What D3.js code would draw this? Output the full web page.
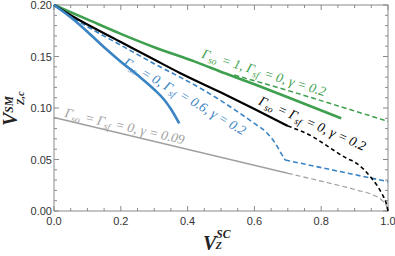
<!DOCTYPE html>
<html>
<head>
<meta charset="utf-8">
<script src="https://cdn.jsdelivr.net/npm/d3@7"></script>
<style>
  body { margin: 0; background: #fff; }
  svg { display: block; }
</style>
</head>
<body>
<div id="chart"></div>
<script>

// curves: [x, y]
var greenSolid = [[0,0.2],[0.1,0.186],[0.2,0.172],[0.3,0.159],[0.422,0.145],[0.512,0.1337],[0.6,0.123],[0.7,0.1105],[0.86,0.09]];
var greenDashed = [[0.54,0.132],[0.7,0.117],[0.886,0.0985],[1.0,0.087]];
var blackSolid = [[0,0.2],[0.05,0.19],[0.1,0.181],[0.2,0.164],[0.3,0.147],[0.377,0.134],[0.5,0.115],[0.6,0.099],[0.70,0.0825]];
var blackDashed = [[0.70,0.0825],[0.775,0.0721],[0.806,0.0657],[0.876,0.0512],[0.906,0.0463],[0.951,0.0317],[0.981,0.0172],[0.996,0.0058],[1.0,0.0]];
var blueSolid = [[0,0.2],[0.05,0.188],[0.1,0.174],[0.15,0.159],[0.2,0.145],[0.25,0.132],[0.3,0.118],[0.33,0.108],[0.35,0.099],[0.375,0.085]];
var blueDashedA = [[0,0.2],[0.05,0.189],[0.1,0.179],[0.2,0.161],[0.3,0.143],[0.377,0.13],[0.45,0.117],[0.547,0.097],[0.6,0.085],[0.637,0.076],[0.662,0.066],[0.68,0.056],[0.692,0.0495]];
var blueDashedB = [[0.692,0.0495],[1.0,0.0285]];
var graySolid = [[0,0.0908],[0.70,0.0366]];
var grayDashed = [[0.70,0.0366],[0.806,0.0285],[0.906,0.0204],[0.956,0.0155],[0.981,0.0107],[0.996,0.0042],[1.0,0.0]];

var xTicks = [0, 0.2, 0.4, 0.6, 0.8, 1.0];
var yTicks = [0, 0.05, 0.10, 0.15, 0.20];

var width = 395, height = 256;
var margin = {left: 54, right: 7, top: 5, bottom: 45};

var green = '#3e9f4e', blue = '#3b84c4', black = '#000', gray = '#a0a0a0';

var svg = d3.select('#chart').append('svg')
	.attr('width', width)
	.attr('height', height);

var x = d3.scaleLinear().domain([0,1]).range([margin.left, width - margin.right]),
	y = d3.scaleLinear().domain([0,0.2]).range([height - margin.bottom, margin.top]);

// frame with inward ticks on all sides
var frame = svg.append('g').attr('stroke','#8a8a8a').attr('stroke-width',1).attr('fill','none');
frame.append('rect')
	.attr('x', x(0)).attr('y', y(0.2))
	.attr('width', x(1) - x(0)).attr('height', y(0) - y(0.2));

d3.range(0, 1.0001, 0.05).forEach(function(t){
	var major = Math.abs(t*5 - Math.round(t*5)) < 1e-6;
	var len = major ? 5 : 3;
	frame.append('line').attr('x1', x(t)).attr('x2', x(t)).attr('y1', y(0)).attr('y2', y(0) - len);
	frame.append('line').attr('x1', x(t)).attr('x2', x(t)).attr('y1', y(0.2)).attr('y2', y(0.2) + len);
});
d3.range(0, 0.2001, 0.01).forEach(function(t){
	var major = Math.abs(t*20 - Math.round(t*20)) < 1e-6;
	var len = major ? 5 : 3;
	frame.append('line').attr('y1', y(t)).attr('y2', y(t)).attr('x1', x(0)).attr('x2', x(0) + len);
	frame.append('line').attr('y1', y(t)).attr('y2', y(t)).attr('x1', x(1)).attr('x2', x(1) - len);
});

// tick labels
svg.selectAll('.xt').data(xTicks).enter().append('text')
	.attr('x', function(d){ return x(d); })
	.attr('y', y(0) + 14)
	.attr('text-anchor','middle')
	.attr('font-family','Liberation Sans, Arial, sans-serif')
	.attr('font-size', 11).attr('fill','#333')
	.text(function(d){ return d.toFixed(1); });

svg.selectAll('.yt').data(yTicks).enter().append('text')
	.attr('x', x(0) - 2)
	.attr('y', function(d){ return y(d) + 4; })
	.attr('text-anchor','end')
	.attr('font-family','Liberation Sans, Arial, sans-serif')
	.attr('font-size', 11).attr('fill','#333')
	.text(function(d){ return d.toFixed(2); });

// curves
var line = d3.line()
	.x(function(d){ return x(d[0]); })
	.y(function(d){ return y(d[1]); })
	.curve(d3.curveMonotoneX);

function draw(data, color, w, dash){
	svg.append('path')
		.attr('d', line(data))
		.attr('fill','none')
		.attr('stroke', color)
		.attr('stroke-width', w)
		.attr('stroke-dasharray', dash || null);
}

draw(grayDashed, gray, 1.2, '5,3');
draw(graySolid, gray, 1.4);
draw(greenDashed, green, 1.5, '5,3');
draw(blueDashedA, blue, 1.6, '5,3');
draw(blueDashedB, blue, 1.6, '5,3');
draw(blackDashed, black, 1.6, '4,3');
draw(greenSolid, green, 2.6);
draw(blackSolid, black, 2.2);
draw(blueSolid, blue, 2.6);

// rotated curve labels; strings are normal text, {s: ...} is a subscript
function label(px, py, angle, color, parts){
	var t = svg.append('text')
		.attr('transform', 'translate(' + x(px) + ',' + y(py) + ') rotate(' + angle + ')')
		.attr('font-family','Liberation Serif, Times New Roman, serif')
		.attr('font-style','italic')
		.attr('font-size', 13.5)
		.attr('fill', color);
	parts.forEach(function(p){
		if (typeof p === 'string') {
			t.append('tspan').text(p);
		} else {
			t.append('tspan').attr('dy', 3).attr('font-size', 9.5).text(p.s);
			t.append('tspan').attr('dy', -3).text('\u200A');
		}
	});
}

label(0.44, 0.149, 17.5, green, ['Γ', {s:'so'}, ' = 1, Γ', {s:'sf'}, ' = 0, γ = 0.2']);
label(0.61, 0.104, 24, black, ['Γ', {s:'so'}, ' = Γ', {s:'sf'}, ' = 0, γ = 0.2']);
label(0.205, 0.142, 30.5, blue, ['Γ', {s:'so'}, ' = 0, Γ', {s:'sf'}, ' = 0.6, γ = 0.2']);
label(0.03, 0.0915, 13, gray, ['Γ', {s:'so'}, ' = Γ', {s:'sf'}, ' = 0, γ = 0.09']);

// axis titles
var xl = svg.append('text')
	.attr('x', 203).attr('y', 250)
	.attr('font-family','Liberation Serif, Times New Roman, serif')
	.attr('font-weight','bold').attr('font-style','italic')
	.attr('font-size', 20).attr('fill','#222');
xl.append('tspan').text('V');
xl.append('tspan').attr('dy', -12).attr('font-size', 11.5).text('SC');
xl.append('tspan').attr('dx', -15).attr('dy', 11).attr('font-size', 10.5).text('Z');

var yl = svg.append('text')
	.attr('transform','translate(17,126) rotate(-90)')
	.attr('font-family','Liberation Serif, Times New Roman, serif')
	.attr('font-weight','bold').attr('font-style','italic')
	.attr('font-size', 20).attr('fill','#222');
yl.append('tspan').text('V');
yl.append('tspan').attr('dy', -4).attr('font-size', 11.5).text('SM');
yl.append('tspan').attr('dx', -9).attr('dy', 11).attr('font-size', 10.5).text('Z,c');

</script>
</body>
</html>
